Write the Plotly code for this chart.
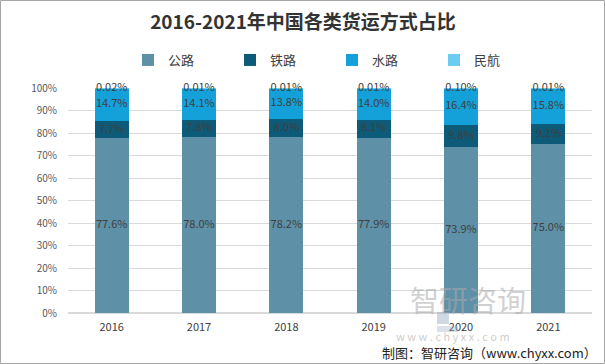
import plotly.graph_objects as go

years = ["2016", "2017", "2018", "2019", "2020", "2021"]
road = [77.6, 78.0, 78.2, 77.9, 73.9, 75.0]
rail = [7.7, 7.8, 8.0, 8.1, 9.8, 9.2]
water = [14.7, 14.1, 13.8, 14.0, 16.4, 15.8]
air = [0.02, 0.01, 0.01, 0.01, 0.10, 0.01]
air_labels = ["0.02%", "0.01%", "0.01%", "0.01%", "0.10%", "0.01%"]

series = [
    ("公路", road, "#5E91A8"),
    ("铁路", rail, "#0D5B78"),
    ("水路", water, "#14A0D8"),
    ("民航", air, "#6CCBF0"),
]

FONT = "Noto Sans CJK SC"
TXT = "#404040"

fig = go.Figure()
for name, vals, col in series:
    fig.add_trace(go.Bar(
        x=years, y=vals, name=name, marker_color=col, marker_line_width=0,
        hoverinfo="skip",
    ))

# value labels at the middle of each normalised segment
totals = [road[i] + rail[i] + water[i] + air[i] for i in range(len(years))]
base = [0.0] * len(years)
for name, vals, col in series:
    mids = [100.0 * (base[i] + vals[i] / 2) / totals[i] for i in range(len(years))]
    labels = air_labels if name == "民航" else [f"{v:.1f}%" for v in vals]
    fig.add_trace(go.Scatter(
        x=years, y=mids, mode="text", text=labels, textposition="middle center",
        textfont=dict(size=11, color=TXT, family=FONT), showlegend=False,
        hoverinfo="skip", cliponaxis=False,
    ))
    base = [base[i] + vals[i] for i in range(len(years))]

W, H = 605, 364
ml, mr, mt, mb = 68, 13, 88, 51
pw, ph = W - ml - mr, H - mt - mb

def px(x):
    return (x - ml) / pw

def py(y):
    return (H - mb - y) / ph

fig.update_layout(
    width=W, height=H, autosize=False,
    margin=dict(l=ml, r=mr, t=mt, b=mb, autoexpand=False),
    paper_bgcolor="white", plot_bgcolor="white",
    barmode="stack", barnorm="percent", bargap=0.61,
    font=dict(family=FONT, color=TXT),
    title=dict(text="<b>2016-2021年中国各类货运方式占比</b>", x=303 / W, xref="container",
               xanchor="center", y=1 - 22 / H, yanchor="middle",
               font=dict(size=19, color="#333333", family=FONT)),
    legend=dict(orientation="h", x=px(128), xanchor="left", y=py(60), yanchor="middle",
                font=dict(size=13, color=TXT, family=FONT),
                entrywidth=57, entrywidthmode="pixels", traceorder="normal",
                bgcolor="rgba(0,0,0,0)", itemwidth=30),
    xaxis=dict(showgrid=False, showline=False, ticks="", tickfont=dict(size=11, color=TXT),
               fixedrange=True, ticklabelstandoff=6),
    yaxis=dict(range=[0, 100], dtick=10, ticksuffix="%", showgrid=True, gridcolor="#D9D9D9",
               gridwidth=1, zeroline=True, zerolinecolor="#D9D9D9", showline=False,
               tickfont=dict(size=10, color="#595959"), ticklabelstandoff=10),
    showlegend=True,
)

# watermark
fig.add_annotation(text="智研咨询", xref="paper", yref="paper", x=px(528), y=py(322),
                   showarrow=False, font=dict(size=29, color="rgba(170,170,170,0.55)", family=FONT))
fig.add_annotation(text="w w w . c h y x x . c o m", xref="paper", yref="paper", x=px(512), y=py(346),
                   showarrow=False, font=dict(size=11, color="rgba(170,170,170,0.6)", family=FONT))
fig.add_shape(type="rect", xref="paper", yref="paper", x0=px(437), x1=px(449), y0=py(312), y1=py(324),
              line_width=0, fillcolor="rgba(150,170,190,0.45)")
fig.add_shape(type="rect", xref="paper", yref="paper", x0=px(437), x1=px(458), y0=py(326), y1=py(332),
              line_width=0, fillcolor="rgba(150,170,190,0.35)")
# source
fig.add_annotation(text="制图：智研咨询（www.chyxx.com）", xref="paper", yref="paper",
                   x=px(599), y=py(352), xanchor="right", yanchor="middle", showarrow=False,
                   font=dict(size=13, color="#222222", family=FONT))
# border
fig.add_shape(type="rect", xref="paper", yref="paper", x0=px(0.5), x1=px(W - 0.5), y0=py(0.5), y1=py(H - 0.5),
              line=dict(color="#A6A6A6", width=1), fillcolor="rgba(0,0,0,0)", layer="below")

fig.write_html("out.html", config={"displayModeBar": False},
               post_script="document.body.style.margin='0';document.body.style.overflow='hidden';")
